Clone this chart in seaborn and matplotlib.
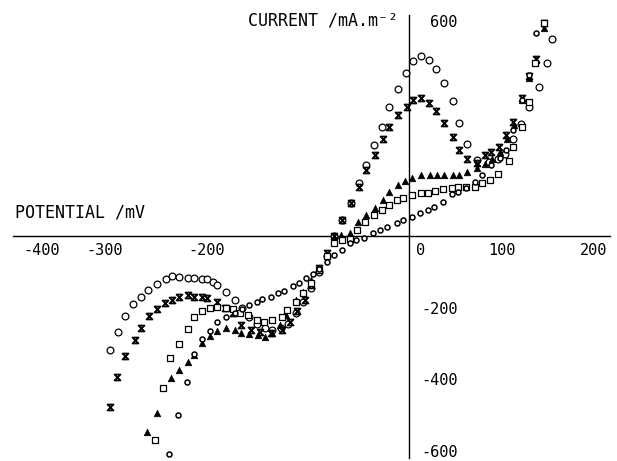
import numpy as np
import pandas as pd
import matplotlib
matplotlib.use("Agg")
import matplotlib.pyplot as plt
from matplotlib.path import Path
from matplotlib.transforms import ScaledTranslation
import seaborn as sns

# ---- data (potential in mV, current in mA.m^-2) ----
circ_v = [-326, -317, -309, -301, -292, -284, -275, -265, -258, -250,
          -241, -234, -226, -220, -214, -209, -199, -190, -182, -174,
          -166, -157, -149, -140, -132, -123, -116, -107, -98, -90,
          -82, -73, -64, -55, -47, -39, -30, -22, -13, -4,
          4, 12, 21, 29, 38, 47, 54, 63, 73, 87,
          96, 104, 113, 121, 130, 141, 149, 155]
circ_i = [-318, -268, -223, -190, -170, -151, -134, -120, -112, -114,
          -117, -117, -120, -120, -128, -137, -156, -179, -200, -225,
          -245, -258, -262, -258, -245, -215, -185, -145, -100, -55,
          0, 45, 92, 148, 198, 254, 304, 360, 410, 455,
          488, 502, 491, 466, 427, 377, 315, 257, 212, 206,
          215, 229, 271, 312, 360, 416, 483, 550]

hour_v = [-326, -318, -309, -298, -292, -283, -275, -266, -258, -250,
          -241, -234, -226, -220, -209, -200, -192, -183, -172, -163,
          -150, -139, -130, -122, -114, -107, -98, -90, -82, -73,
          -64, -55, -47, -38, -29, -22, -13, -3, 4, 13,
          21, 29, 38, 47, 54, 63, 73, 82, 89, 97,
          105, 113, 122, 130, 138, 146]
hour_i = [-477, -393, -335, -290, -257, -223, -204, -187, -179, -170,
          -165, -170, -170, -173, -184, -200, -215, -248, -262, -268,
          -270, -262, -240, -210, -179, -137, -89, -47, 0, 45,
          92, 137, 184, 226, 271, 304, 338, 360, 380, 385,
          371, 349, 315, 276, 240, 215, 204, 226, 235, 249,
          282, 318, 385, 446, 494, 594]

tri_v = [-285, -275, -259, -250, -241, -234, -225, -217, -209, -199,
         -190, -183, -174, -165, -157, -149, -141, -134, -123, -116,
         -107, -98, -90, -82, -74, -65, -56, -47, -38, -29,
         -22, -13, -5, 3, 13, 22, 30, 38, 47, 54,
         63, 73, 82, 90, 98, 106, 114, 122, 130, 138, 146]
tri_i = [-547, -494, -396, -374, -351, -332, -299, -279, -265, -257,
         -262, -271, -273, -276, -282, -270, -250, -220, -179, -156,
         -123, -95, -53, -3, 3, 8, 39, 59, 78, 101,
         123, 142, 154, 162, 170, 170, 170, 170, 170, 170,
         179, 190, 200, 215, 235, 270, 310, 380, 440, 490, 580]

sq_v = [-277, -268, -260, -251, -241, -234, -226, -217, -209, -199,
        -192, -184, -176, -166, -158, -149, -139, -133, -123, -116,
        -107, -98, -90, -82, -73, -65, -57, -48, -39, -30,
        -22, -14, -7, 3, 12, 20, 28, 36, 46, 53,
        62, 71, 79, 88, 96, 108, 113, 122, 130, 137, 146]
sq_i = [-570, -424, -340, -301, -260, -226, -209, -201, -198, -201,
        -204, -215, -220, -234, -240, -234, -226, -206, -184, -159,
        -130, -95, -55, -20, -12, -8, 17, 39, 59, 73,
        87, 101, 106, 115, 120, 120, 126, 131, 134, 137,
        137, 137, 148, 156, 173, 209, 248, 304, 374, 483, 594]

dia_v = [-261, -252, -242, -234, -225, -217, -209, -199, -190, -182,
         -174, -166, -160, -151, -143, -136, -127, -120, -112, -105,
         -98, -90, -82, -73, -65, -58, -49, -40, -32, -24,
         -14, -7, 3, 11, 20, 27, 36, 46, 53, 62,
         71, 79, 89, 98, 105, 113, 122, 130, 138]
dia_i = [-608, -500, -407, -329, -287, -265, -240, -226, -215, -203,
         -193, -184, -176, -170, -159, -153, -140, -131, -117, -106,
         -92, -73, -53, -39, -20, -11, -6, 8, 17, 25,
         36, 45, 53, 64, 73, 81, 95, 117, 123, 134,
         151, 170, 198, 218, 240, 296, 380, 450, 566]

x_ticks = [-400, -300, -200, -100, 0, 100, 200]
x_tick_labels = ["-400", "-300", "-200", "", "0", "100", "200"]
y_ticks = [-600, -400, -200, 200, 400, 600]
y_tick_labels = ["-600", "-400", "-200", "", "", "600"]

# ---- style ----
sns.set_style("white")
plt.rcParams["font.family"] = ["DejaVu Sans Mono", "DejaVu Sans"]

fig = plt.figure(figsize=(6.17, 4.61), dpi=100)
ax = fig.add_axes([13 / 617, 3 / 461, 597 / 617, 443 / 461])
ax.set_xlim(-431, 218)
ax.set_ylim(-620, 617)

hourglass = Path([(-1, 1), (1, 1), (-1, -1), (1, -1), (-1, 1)],
                 [Path.MOVETO, Path.LINETO, Path.LINETO, Path.LINETO, Path.CLOSEPOLY])

sns.scatterplot(x=circ_v, y=circ_i, marker="o", s=24, color="white",
                edgecolor="black", linewidth=0.9, ax=ax, zorder=3)
sns.scatterplot(x=hour_v, y=hour_i, marker=hourglass, s=18, color="white",
                edgecolor="black", linewidth=1.3, ax=ax, zorder=3)
sns.scatterplot(x=tri_v, y=tri_i, marker="^", s=22, color="black",
                edgecolor="black", linewidth=0.5, ax=ax, zorder=3)
sns.scatterplot(x=sq_v, y=sq_i, marker="s", s=20, color="white",
                edgecolor="black", linewidth=0.9, ax=ax, zorder=3)
sns.scatterplot(x=dia_v, y=dia_i, marker="o", s=13, color="white",
                edgecolor="black", linewidth=1.1, ax=ax, zorder=3)

# ---- axes through the origin ----
for side in ["top", "right"]:
    ax.spines[side].set_visible(False)
ax.spines["left"].set_position(("data", 0))
ax.spines["bottom"].set_position(("data", 0))
for side in ["left", "bottom"]:
    ax.spines[side].set_linewidth(1.0)
    ax.spines[side].set_color("black")
    ax.spines[side].set_zorder(2)

ax.set_xticks(x_ticks)
ax.set_xticklabels(x_tick_labels)
ax.set_yticks(y_ticks)
ax.set_yticklabels(y_tick_labels)
ax.tick_params(axis="x", direction="in", length=3, width=0.8, pad=5,
               labelsize=11, colors="black")
ax.tick_params(axis="y", direction="in", length=3, width=0.8, pad=-34.5,
               labelsize=11, colors="black")

# small horizontal nudges of x tick labels as in the original plot
nudges = {"0": 11, "-200": -19, "-300": -29}
for lab in ax.get_xticklabels():
    dx = nudges.get(lab.get_text(), 0)
    if dx:
        lab.set_transform(lab.get_transform() +
                          ScaledTranslation(dx / 100, 0, fig.dpi_scale_trans))

ax.text(0.003, 0.555, "POTENTIAL /mV", transform=ax.transAxes,
        ha="left", va="center", fontsize=12, color="black")
ax.text(0.645, 0.988, "CURRENT /mA.m\u207b\u00b2", transform=ax.transAxes,
        ha="right", va="center", fontsize=12, color="black")

ax.set_xlabel("")
ax.set_ylabel("")
fig.savefig("out.png", dpi=100)
